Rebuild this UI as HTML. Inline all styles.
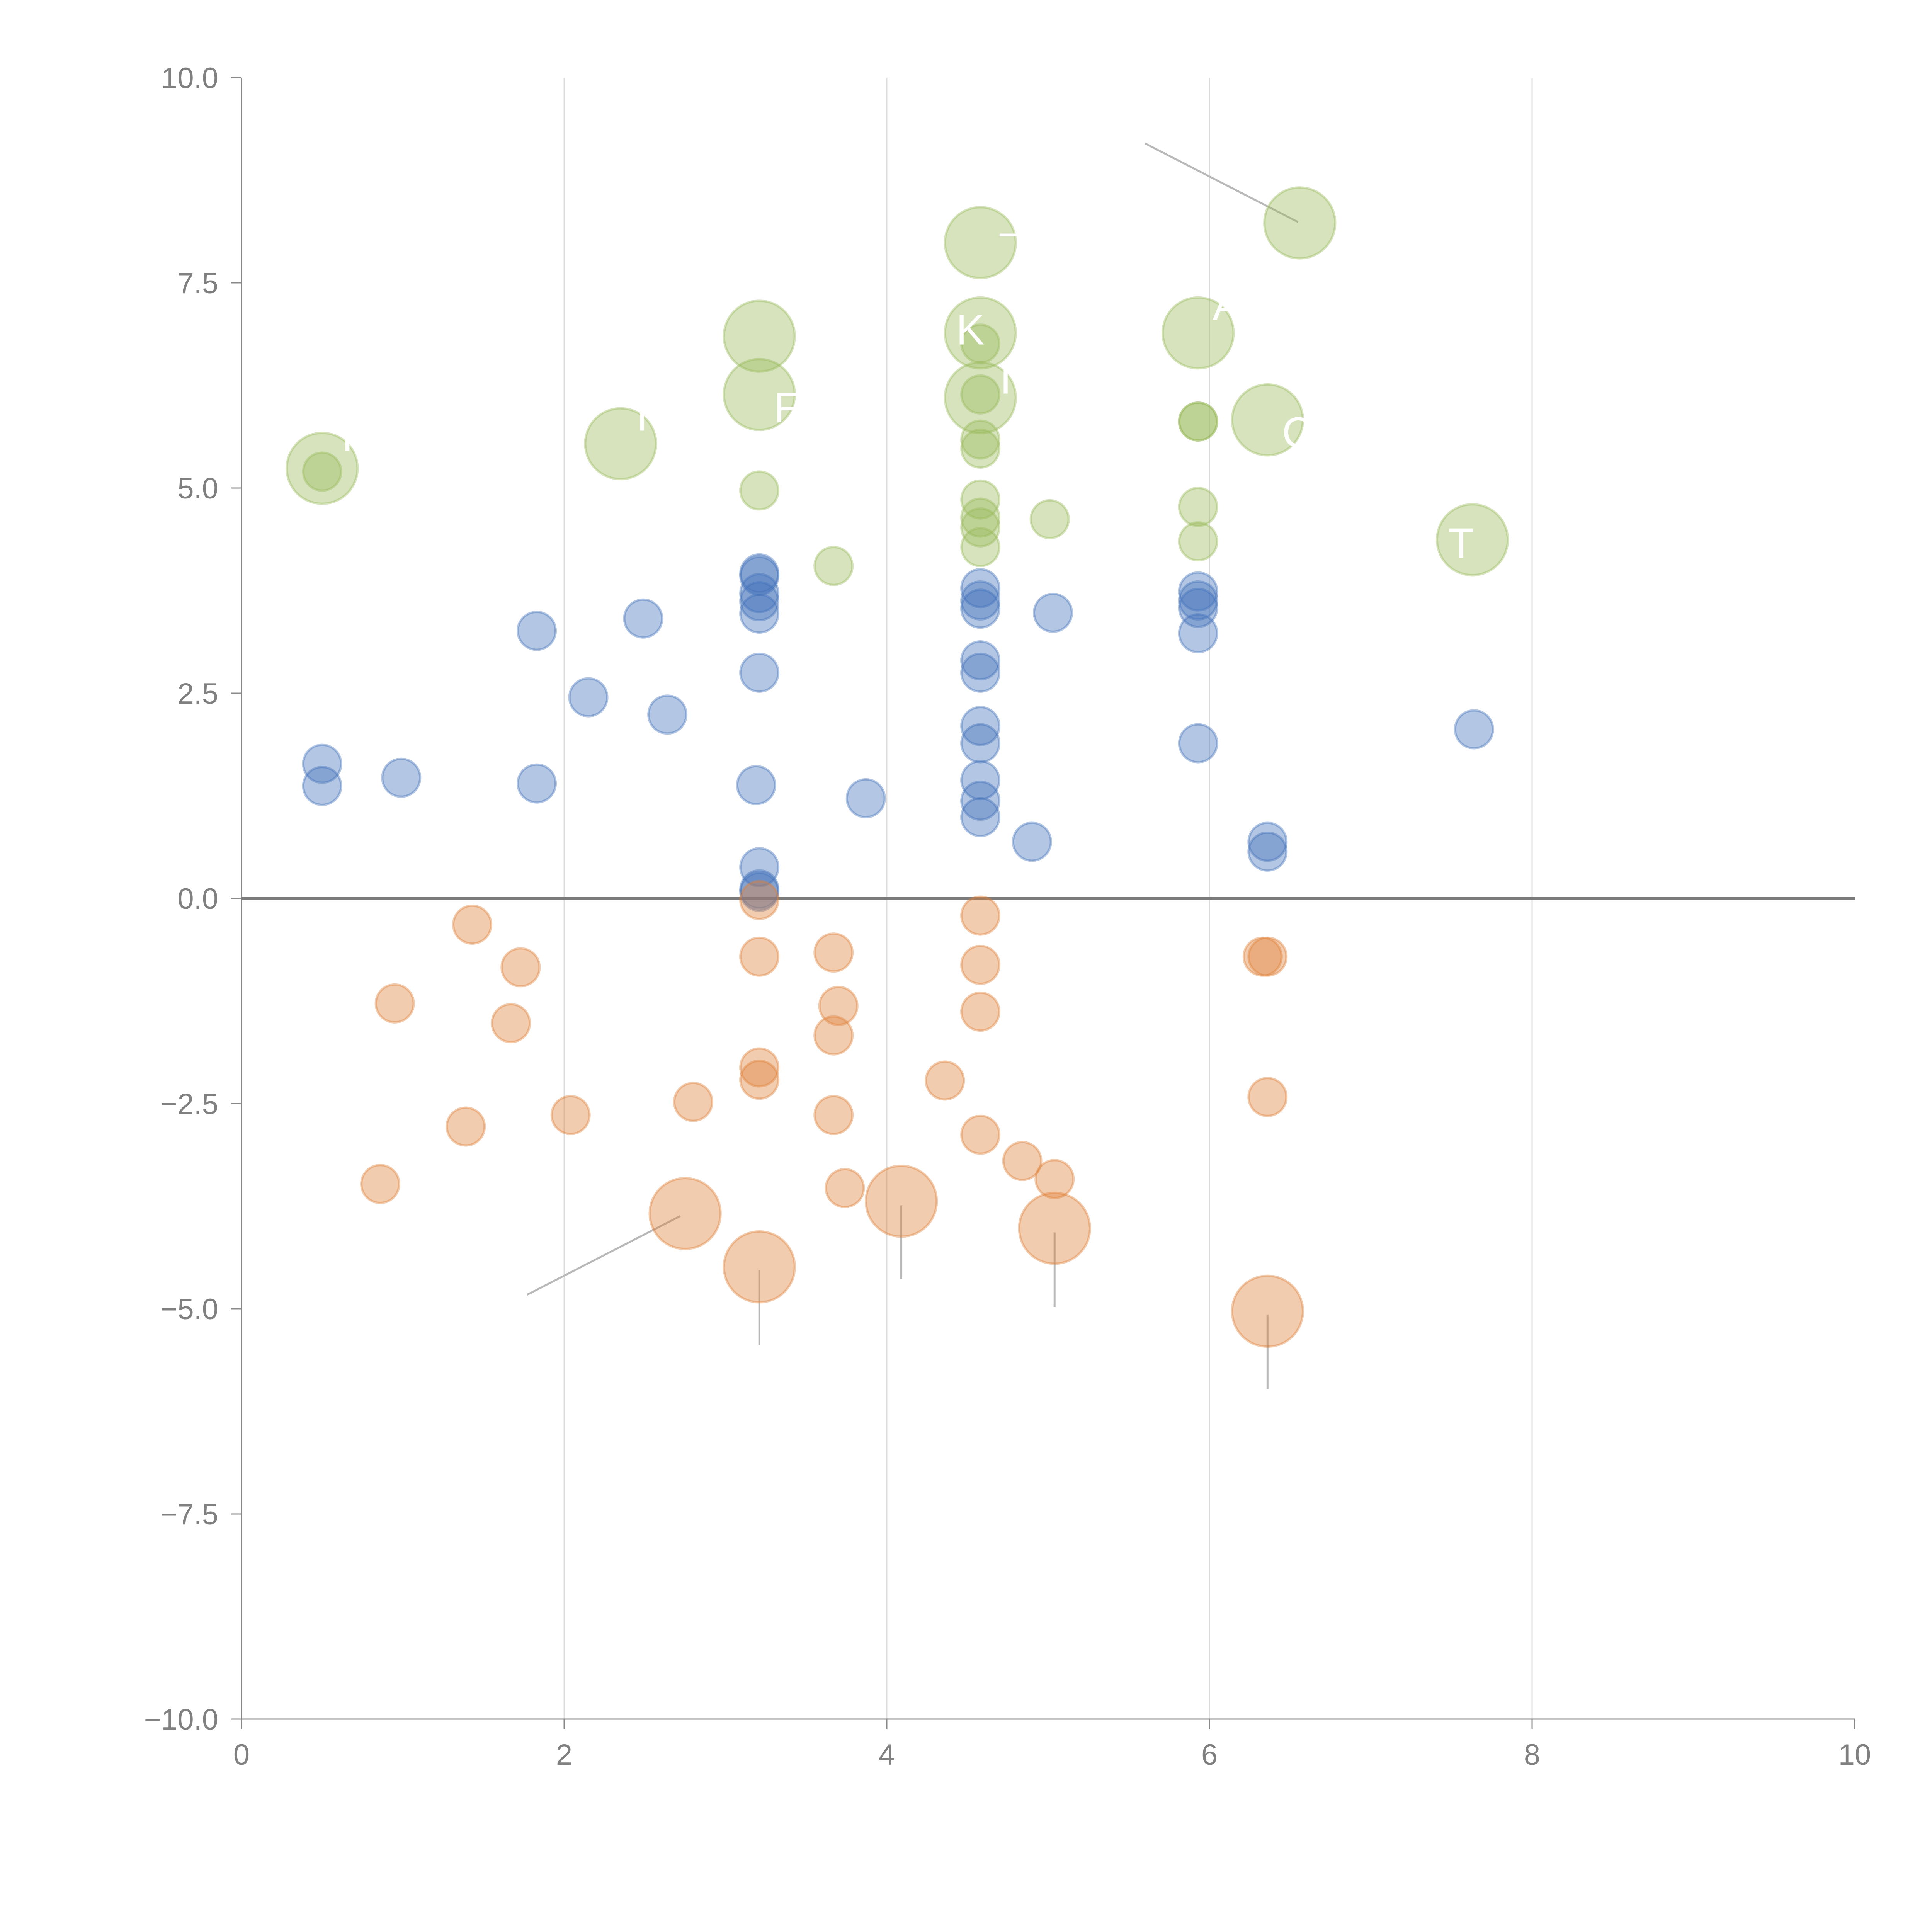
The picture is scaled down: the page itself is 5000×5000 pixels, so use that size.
<!DOCTYPE html>
<html><head><meta charset="utf-8"><style>html,body{margin:0;padding:0;background:#fff}svg{display:block}</style></head>
<body>
<svg id="chart" xmlns="http://www.w3.org/2000/svg" width="5000" height="5000" viewBox="0 0 5000 5000" font-family="'Liberation Sans', sans-serif">
<rect width="5000" height="5000" fill="#fff"/>
<g id="grid"></g><g id="axes"></g><g id="leaders"></g><g id="bubbles"></g><g id="labels"></g>
</svg>
<script>
const xTicks=[0,2,4,6,8,10];
const yTicks=[-10,-7.5,-5,-2.5,0,2.5,5,7.5,10];
const blueX=[0.50,0.50,0.99,1.83,1.83,2.15,2.49,2.64,3.21,3.21,3.21,3.21,3.21,3.21,3.19,3.21,3.21,3.21,3.87,4.58,4.58,4.58,4.58,4.58,4.58,4.58,4.58,4.58,4.58,4.90,5.03,5.93,5.93,5.93,5.93,5.93,6.36,6.36,7.64];
const blueY=[1.64,1.37,1.47,3.26,1.40,2.45,3.41,2.24,3.96,3.93,3.72,3.62,3.47,2.75,1.38,0.38,0.11,0.08,1.22,3.78,3.63,3.53,2.90,2.75,2.10,1.89,1.44,1.19,0.99,0.69,3.48,3.74,3.63,3.54,3.23,1.89,0.69,0.57,2.06];
const orangeX=[1.43,1.73,0.95,1.67,0.86,1.39,2.04,2.80,3.21,3.21,3.21,3.21,3.67,3.70,3.67,3.67,3.74,4.36,4.58,4.58,4.58,4.58,4.84,5.04,6.33,6.36,6.36,2.75,3.21,4.09,5.04,6.36];
const orangeY=[-0.32,-0.84,-1.28,-1.52,-3.48,-2.78,-2.64,-2.48,-0.02,-0.71,-2.06,-2.21,-0.66,-1.31,-1.67,-2.64,-3.53,-2.22,-0.21,-0.81,-1.38,-2.88,-3.20,-3.42,-0.71,-0.71,-2.42,-3.84,-4.49,-3.69,-4.02,-5.03];
const orangeS=[1,1,1,1,1,1,1,1,1,1,1,1,1,1,1,1,1,1,1,1,1,1,1,1,1,1,1,3.5,3.5,3.5,3.5,3.5];
const greenX=[0.50,2.35,3.21,3.21,4.58,4.58,4.58,5.93,6.56,6.36,7.63,0.50,3.21,3.67,4.58,4.58,4.58,4.58,4.58,4.58,4.58,4.58,5.01,5.93,5.93,5.93,5.93];
const greenY=[5.24,5.54,6.85,6.14,7.99,6.89,6.10,6.89,8.23,5.83,4.37,5.20,4.97,4.05,6.76,6.14,5.59,5.48,4.86,4.64,4.52,4.28,4.62,5.81,5.81,4.77,4.35];
const greenS=[3.5,3.5,3.5,3.5,3.5,3.5,3.5,3.5,3.5,3.5,3.5,1,1,1,1,1,1,1,1,1,1,1,1,1,1,1,1];
const leaderFrom=[[5.60,9.20],[1.77,-4.83],[3.21,-4.53],[4.09,-3.74],[5.04,-4.07],[6.36,-5.07]];
const leaderTo=[[6.55,8.24],[2.72,-3.87],[3.21,-5.44],[4.09,-4.64],[5.04,-4.98],[6.36,-5.98]];
const labelText=["T","C","A","IC","K","F","N","I","—"];
const labelX=[7.48,6.45,6.02,4.70,4.43,3.30,2.45,0.62,4.70];
const labelY=[4.15,5.50,7.05,6.15,6.75,5.80,5.70,5.45,7.95];

const NS="http://www.w3.org/2000/svg";
const X0=625,X1=4800,YT=201,YB=4449;
const xs=v=>X0+(v-0)/(10-0)*(X1-X0);
const ys=v=>YB-(v+10)/20*(YB-YT);
const rs=s=>49*Math.sqrt(s);
function mk(tag,attrs,parent){const e=document.createElementNS(NS,tag);for(const k in attrs)e.setAttribute(k,attrs[k]);parent.appendChild(e);return e;}
const grid=document.getElementById('grid'),axes=document.getElementById('axes'),bub=document.getElementById('bubbles'),lead=document.getElementById('leaders'),lab=document.getElementById('labels');

xTicks.forEach(t=>{
  if(t>0&&t<10){const g=mk('line',{x1:xs(t),x2:xs(t),y1:YT,y2:YB,stroke:'#dcdcdc','stroke-width':3},grid);
  
  }
  const tk=mk('line',{x1:xs(t),x2:xs(t),y1:YB,y2:YB+26,stroke:'#888','stroke-width':3},axes);
  
  
  const tx=mk('text',{x:xs(t),y:YB+118,'text-anchor':'middle','font-size':76,fill:'#808080'},axes);
  tx.textContent=String(t);
  
  
});
yTicks.forEach(t=>{
  const tk=mk('line',{x1:X0-26,x2:X0,y1:ys(t),y2:ys(t),stroke:'#888','stroke-width':3},axes);
  
  
  const tx=mk('text',{x:X0-60,y:ys(t)+27,'text-anchor':'end','font-size':76,fill:'#808080'},axes);
  tx.textContent=(t<0?'\u2212':'')+Math.abs(t).toFixed(1);
  
  
});
const ya=mk('line',{x1:X0,x2:X0,y1:YT,y2:YB,stroke:'#888','stroke-width':3},axes);


const xa=mk('line',{x1:X0,x2:X1,y1:YB,y2:YB,stroke:'#888','stroke-width':3},axes);


const zl=mk('line',{x1:X0,x2:X1,y1:ys(0),y2:ys(0),stroke:'#7a7a7a','stroke-width':8},axes);



leaderFrom.forEach((p,i)=>{
  const l=mk('line',{x1:xs(p[0]),y1:ys(p[1]),x2:xs(leaderTo[i][0]),y2:ys(leaderTo[i][1]),stroke:'#b8b8b8','stroke-width':5},lead);
  
  
});

function series(xa,ya,sa,col,name){
  xa.forEach((x,i)=>{
    const c=mk('circle',{cx:xs(x),cy:ys(ya[i]),r:rs(sa?sa[i]:1),fill:col,'fill-opacity':0.4,stroke:col,'stroke-opacity':0.4,'stroke-width':6},bub);
    
    
  });
}
series(blueX,blueY,null,'rgb(65,112,185)','blue-bubble');
series(orangeX,orangeY,orangeS,'rgb(222,128,55)','orange-bubble');
series(greenX,greenY,greenS,'rgb(152,185,90)','green-bubble');

labelText.forEach((t,i)=>{
  const tx=mk('text',{x:xs(labelX[i]),y:ys(labelY[i]),'font-size':110,fill:'#ffffff'},lab);
  tx.textContent=t;
  
  
});
</script>
</body></html>
